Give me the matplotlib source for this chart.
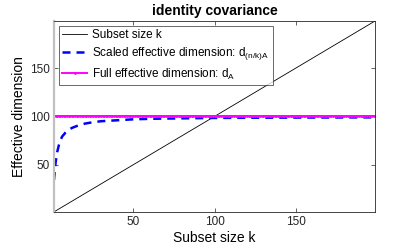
import numpy as np
import matplotlib
matplotlib.use("Agg")
import matplotlib.pyplot as plt

plt.rcParams['font.family'] = ['Liberation Sans', 'DejaVu Sans']
plt.rcParams['mathtext.fontset'] = 'custom'
plt.rcParams['mathtext.rm'] = 'Liberation Sans'

# data
k_subset = np.arange(1, 201)
k_scaled = [1, 2, 3, 4, 5, 6, 8, 10, 12, 15, 20, 25, 30, 40, 50, 60, 80, 100, 120, 150, 200]
d_scaled = [34, 52, 63, 70, 75, 79, 83, 86, 88, 90, 92.5, 94, 95, 96, 97, 97.5, 98, 98.4, 98.6, 98.8, 99]
k_full = np.arange(1, 201)
d_full = [100] * len(k_full)

title = "identity covariance"
xlabel = "Subset size k"
ylabel = "Effective dimension"
xticks = [50, 100, 150]
yticks = [50, 100, 150]

fig = plt.figure(figsize=(4.15, 2.49), dpi=100)
ax = fig.add_axes([0.130, 0.149, 0.774, 0.767])

ax.plot(k_subset, k_subset, color='black', lw=0.6, label='Subset size k')
ax.plot(k_scaled, d_scaled, color='blue', lw=1.8, ls=(0, (3.2, 2.4)),
        label=r'Scaled effective dimension: d$\mathregular{_{(n/k)A}}$')
ax.plot(k_full, d_full, color='magenta', lw=1.4, marker='.', markersize=2,
        label=r'Full effective dimension: d$\mathregular{_{A}}$')

ax.set_xlim(1, 199)
ax.set_ylim(1, 199)
ax.set_xticks(xticks)
ax.set_yticks(yticks)
ax.tick_params(direction='in', length=3, width=0.5, labelsize=8.5, colors='#262626',
               top=True, right=True, pad=3)
for s in ax.spines.values():
    s.set_color('#262626')
    s.set_linewidth(0.6)
ax.spines['left'].set_color('#c0c0c0')
ax.spines['left'].set_linewidth(1.6)

ax.set_title(title, fontsize=10, fontweight='bold', pad=4)
ax.set_xlabel(xlabel, fontsize=10, labelpad=2)
ax.set_ylabel(ylabel, fontsize=10, labelpad=3)

leg = ax.legend(loc='upper left', fontsize=8.5, frameon=True, fancybox=False,
                edgecolor='#262626', borderpad=0.3, handlelength=2.1, labelspacing=0.35,
                borderaxespad=0.4, handletextpad=0.45)
leg.get_frame().set_linewidth(0.6)

fig.savefig('out.png', dpi=100)
